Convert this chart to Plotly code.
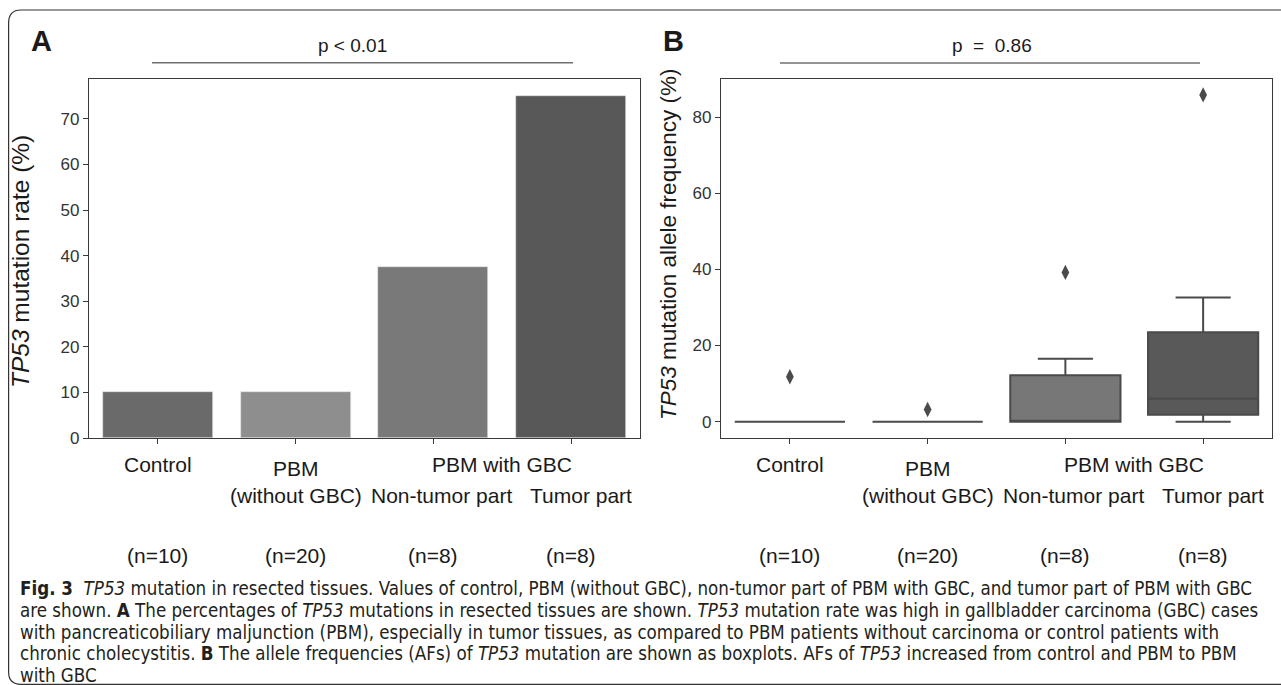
import plotly.graph_objects as go

# Reference pixel grid (picture coordinates)
W, H = 1281, 685
# The captured picture is ~1.4% shorter than the page, so the page is made
# slightly taller; all placement is done in paper fractions of the picture.
PAGE_H = 695


def px(x):
    return x / W


def py(y):
    return 1 - y / H


# ---------------- data ----------------
positions = [0, 1, 2, 3]
group_n = ["(n=10)", "(n=20)", "(n=8)", "(n=8)"]

# Panel A: TP53 mutation rate (%)
mutation_rate = [10, 10, 37.5, 75]
bar_colors = ["#6a6a6a", "#8e8e8e", "#797979", "#585858"]
yticks_a = [0, 10, 20, 30, 40, 50, 60, 70]

# Panel B: TP53 mutation allele frequency (%) - box statistics
af_q1 = [0, 0, 0, 1.8]
af_median = [0, 0, 0, 6.0]
af_q3 = [0, 0, 12.2, 23.5]
af_lower = [0, 0, 0, 0]
af_upper = [0, 0, 16.5, 32.6]
af_outliers = [[11.8], [3.2], [39.2], [85.8]]
box_colors = ["#6a6a6a", "#8e8e8e", "#777777", "#595959"]
yticks_b = [0, 20, 40, 60, 80]

p_a = "p &lt; 0.01"
p_b = "p&#160; =&#160; 0.86"

caption_lines = [
    "<b>Fig. 3</b>  <i>TP53</i> mutation in resected tissues. Values of control, PBM (without GBC), non-tumor part of PBM with GBC, and tumor part of PBM with GBC",
    "are shown. <b>A</b> The percentages of <i>TP53</i> mutations in resected tissues are shown. <i>TP53</i> mutation rate was high in gallbladder carcinoma (GBC) cases",
    "with pancreaticobiliary maljunction (PBM), especially in tumor tissues, as compared to PBM patients without carcinoma or control patients with",
    "chronic cholecystitis. <b>B</b> The allele frequencies (AFs) of <i>TP53</i> mutation are shown as boxplots. AFs of <i>TP53</i> increased from control and PBM to PBM",
    "with GBC",
]

# ---------------- figure ----------------
FONT = "Liberation Sans, Arial, sans-serif"
CAPFONT = "Liberation Sans Narrow, DejaVu Sans Condensed, Liberation Sans, sans-serif"
AXC = "#3a3a3a"
TXT = "#1a1a1a"

fig = go.Figure()

fig.add_trace(go.Bar(
    x=positions, y=mutation_rate, width=0.8,
    marker=dict(color=bar_colors, line=dict(width=0.6, color="#e8e8e8")),
    xaxis="x", yaxis="y", showlegend=False, hoverinfo="y",
))

for i in positions:
    fig.add_trace(go.Box(
        x=[i], q1=[af_q1[i]], median=[af_median[i]], q3=[af_q3[i]],
        lowerfence=[af_lower[i]], upperfence=[af_upper[i]],
        width=0.8, whiskerwidth=0.5, boxpoints=False,
        fillcolor=box_colors[i], line=dict(color="#4a4a4a", width=2),
        xaxis="x2", yaxis="y2", showlegend=False,
    ))
    fig.add_trace(go.Scatter(
        x=[i] * len(af_outliers[i]), y=af_outliers[i], mode="markers",
        marker=dict(symbol="diamond-tall", size=11, color="#4a4a4a"),
        xaxis="x2", yaxis="y2", showlegend=False,
    ))

axis_common = dict(
    showline=True, mirror=True, linecolor=AXC, linewidth=1.2,
    ticks="outside", ticklen=5, tickcolor=AXC, tickwidth=1,
    showgrid=False, zeroline=False,
    tickfont=dict(family=FONT, size=17, color="#333333"),
)

fig.update_layout(
    width=W, height=PAGE_H, autosize=False,
    margin=dict(l=0, r=0, t=0, b=0),
    paper_bgcolor="white", plot_bgcolor="white",
    font=dict(family=FONT, color=TXT),
    bargap=0,
    xaxis=dict(domain=[px(89), px(640)], range=[-0.5, 3.5], tickvals=positions,
               ticktext=["", "", "", ""], **axis_common),
    yaxis=dict(domain=[py(438), py(79)], range=[0, 78.75], tickvals=yticks_a,
               **axis_common),
    xaxis2=dict(domain=[px(721), px(1272)], range=[-0.5, 3.5], tickvals=positions,
                ticktext=["", "", "", ""], anchor="y2", **axis_common),
    yaxis2=dict(domain=[py(438), py(79)], range=[-4.28, 89.98], tickvals=yticks_b,
                anchor="x2", **axis_common),
)

ann = []


def text(x, y, s, size=21, xref="paper", anchor="center", angle=0, fam=FONT, color=TXT):
    ann.append(dict(x=x, y=y, xref=xref, yref="paper", text=s, showarrow=False,
                    xanchor=anchor, yanchor="middle", textangle=angle,
                    font=dict(family=fam, size=size, color=color)))


# panel letters
text(px(29), py(41), "<b>A</b>", size=29, anchor="left")
text(px(661), py(41), "<b>B</b>", size=29, anchor="left")

# p-values and lines
text(px(352), py(46), p_a, size=19)
text(px(992), py(46), p_b, size=19)
shapes = [
    dict(type="line", xref="paper", yref="paper", x0=px(152), x1=px(573),
         y0=py(62.7), y1=py(62.7), line=dict(color="#707070", width=1.6)),
    dict(type="line", xref="paper", yref="paper", x0=px(780), x1=px(1200),
         y0=py(63), y1=py(63), line=dict(color="#707070", width=1.6)),
]

# y titles
text(px(20), py(262), "<i>TP53</i> mutation rate (%)", size=24.5, angle=-90)
text(px(668), py(245), "<i>TP53</i> mutation allele frequency (%)", size=22.5, angle=-90)

# category labels
for xr in ["x", "x2"]:
    text(0, py(464), "Control", xref=xr)
    text(1, py(468), "PBM", xref=xr)
    text(1, py(495), "(without GBC)", xref=xr)
    text(2.5, py(464), "PBM with GBC", xref=xr)
    text(2.06, py(495), "Non-tumor part", xref=xr)
    text(3.07, py(495), "Tumor part", xref=xr)
    for i in positions:
        text(i, py(555), group_n[i], xref=xr)

# caption
cap_y = [588, 610, 632, 653.5, 675]
for s, yy in zip(caption_lines, cap_y):
    text(px(18), py(yy), s, size=18.6, anchor="left", fam=CAPFONT, color="#231f20")

# outer rounded frame
x0, y0, yb = px(8.6), py(10), py(684.3)
path = (f"M {px(1295)},{y0} L {px(21)},{y0} Q {x0},{y0} {x0},{py(23)} "
        f"L {x0},{py(672)} Q {x0},{yb} {px(21)},{yb} L {px(1295)},{yb}")
shapes.append(dict(type="path", xref="paper", yref="paper", path=path,
                   line=dict(color="#333333", width=1.2)))

fig.update_layout(annotations=ann, shapes=shapes)

post = """
document.documentElement.style.margin = '0';
document.body.style.margin = '0';
document.body.style.overflow = 'hidden';
"""
fig.write_html(
    "out.html",
    config={"responsive": False, "displayModeBar": False},
    post_script=post,
)
